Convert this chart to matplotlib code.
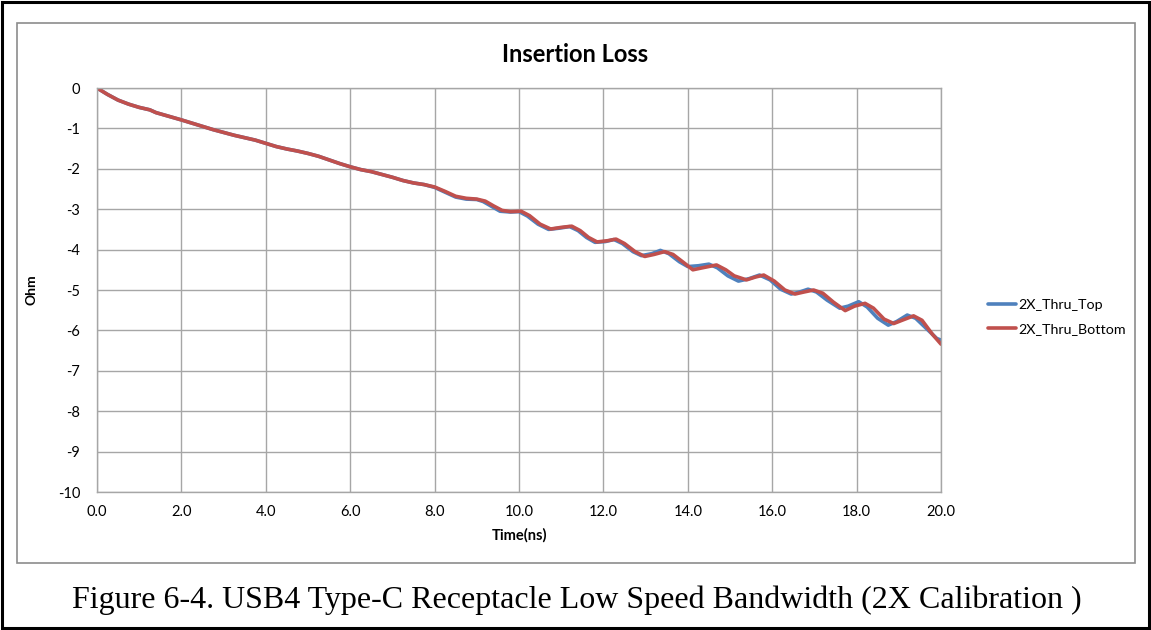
import matplotlib.pyplot as plt
from matplotlib.patches import Rectangle

# data (time in ns, value in "Ohm")
top_t = [0.0, 0.25, 0.5, 0.75, 1.0, 1.25, 1.4, 1.6, 2.0, 2.25, 2.5, 2.75, 3.0, 3.25, 3.5, 3.75,
         4.0, 4.25, 4.5, 4.75, 5.0, 5.25, 5.5, 5.75, 6.0, 6.25, 6.5, 6.75, 7.0, 7.25, 7.5, 7.75,
         8.0, 8.25, 8.5, 8.75, 9.0, 9.15, 9.35, 9.55, 9.8, 10.0, 10.2, 10.45, 10.7, 10.95, 11.2,
         11.4, 11.6, 11.8, 12.05, 12.25, 12.45, 12.7, 12.9, 13.15, 13.35, 13.55, 13.8, 14.0,
         14.25, 14.5, 14.7, 14.95, 15.2, 15.45, 15.7, 15.95, 16.2, 16.45, 16.65, 16.85, 17.05,
         17.3, 17.6, 17.8, 18.05, 18.25, 18.5, 18.75, 18.95, 19.2, 19.4, 19.7, 19.9, 20.0]
top_v = [0.0, -0.16, -0.30, -0.40, -0.48, -0.54, -0.61, -0.67, -0.79, -0.87, -0.95, -1.03,
         -1.10, -1.17, -1.23, -1.29, -1.37, -1.45, -1.51, -1.56, -1.62, -1.69, -1.78, -1.87,
         -1.95, -2.02, -2.07, -2.14, -2.21, -2.29, -2.35, -2.39, -2.46, -2.58, -2.70, -2.75,
         -2.76, -2.81, -2.93, -3.05, -3.07, -3.06, -3.17, -3.37, -3.50, -3.47, -3.43, -3.53,
         -3.70, -3.82, -3.80, -3.75, -3.85, -4.05, -4.15, -4.10, -4.02, -4.10, -4.30, -4.42,
         -4.40, -4.36, -4.45, -4.65, -4.78, -4.72, -4.63, -4.75, -4.98, -5.10, -5.05, -4.98,
         -5.05, -5.25, -5.45, -5.40, -5.29, -5.42, -5.70, -5.87, -5.78, -5.62, -5.70, -6.00,
         -6.20, -6.24]

bot_t = [0.0, 0.25, 0.5, 0.75, 1.0, 1.25, 1.4, 1.6, 2.0, 2.25, 2.5, 2.75, 3.0, 3.25, 3.5, 3.75,
         4.0, 4.25, 4.5, 4.75, 5.0, 5.25, 5.5, 5.75, 6.0, 6.25, 6.5, 6.75, 7.0, 7.25, 7.5, 7.75,
         8.0, 8.25, 8.5, 8.75, 9.0, 9.2, 9.4, 9.6, 9.8, 10.05, 10.25, 10.5, 10.75, 11.0, 11.25,
         11.45, 11.65, 11.85, 12.1, 12.3, 12.5, 12.75, 12.98, 13.2, 13.45, 13.65, 13.9, 14.12,
         14.35, 14.68, 14.9, 15.1, 15.39, 15.6, 15.8, 16.05, 16.3, 16.54, 16.75, 16.98, 17.2,
         17.45, 17.73, 17.95, 18.2, 18.4, 18.65, 18.88, 19.1, 19.35, 19.55, 19.8, 20.0]
bot_v = [0.0, -0.16, -0.30, -0.40, -0.48, -0.54, -0.61, -0.67, -0.79, -0.87, -0.95, -1.03,
         -1.10, -1.17, -1.23, -1.29, -1.37, -1.45, -1.51, -1.56, -1.62, -1.69, -1.78, -1.87,
         -1.95, -2.02, -2.07, -2.14, -2.21, -2.29, -2.35, -2.39, -2.45, -2.56, -2.68, -2.73,
         -2.75, -2.80, -2.92, -3.03, -3.06, -3.05, -3.16, -3.37, -3.49, -3.45, -3.42, -3.53,
         -3.70, -3.81, -3.78, -3.74, -3.85, -4.05, -4.17, -4.12, -4.05, -4.12, -4.32, -4.50,
         -4.45, -4.38, -4.50, -4.65, -4.75, -4.68, -4.63, -4.78, -5.00, -5.10, -5.05, -5.00,
         -5.08, -5.30, -5.51, -5.40, -5.33, -5.45, -5.72, -5.83, -5.74, -5.64, -5.75, -6.10,
         -6.34]

series_names = ["2X_Thru_Top", "2X_Thru_Bottom"]
x_ticks = [0, 2, 4, 6, 8, 10, 12, 14, 16, 18, 20]
y_ticks = [0, -1, -2, -3, -4, -5, -6, -7, -8, -9, -10]

W, H = 1151, 630
font = "Lato"

fig = plt.figure(figsize=(W / 100, H / 100), dpi=100)

# outer black box and the gray chart frame
fig.patches.append(Rectangle((2 / W, 2 / H), (W - 4) / W, (H - 4) / H, transform=fig.transFigure,
                             fill=False, edgecolor="black", linewidth=2.2))
fig.patches.append(Rectangle((17 / W, (H - 563) / H), (1135 - 17) / W, (563 - 23) / H,
                             transform=fig.transFigure, fill=False, edgecolor="#8c8c8c", linewidth=1.2))

ax = fig.add_axes([97 / W, (H - 492) / H, (941 - 97) / W, (492 - 88) / H])
ax.plot(top_t, top_v, color="#4F81BD", linewidth=2.6, label=series_names[0], solid_capstyle="round")
ax.plot(bot_t, bot_v, color="#C0504D", linewidth=2.6, label=series_names[1], solid_capstyle="round")

ax.set_xlim(0, 20)
ax.set_ylim(-10, 0)
ax.set_xticks(x_ticks)
ax.set_xticklabels([f"{v:.1f}" for v in x_ticks], fontfamily=font, fontsize=10.5)
ax.set_yticks(y_ticks)
ax.set_yticklabels([str(v) for v in y_ticks], fontfamily=font, fontsize=10.5)
ax.tick_params(length=0, pad=9)
ax.tick_params(axis="y", pad=12)
ax.grid(True, color="#a6a6a6", linewidth=1.0)
ax.set_axisbelow(True)
for s in ax.spines.values():
    s.set_color("#a6a6a6")
    s.set_linewidth(1.0)

fig.text(575 / W, 1 - 54 / H, "Insertion Loss", ha="center", va="center",
         fontfamily=font, fontweight="bold", fontsize=17)
fig.text(32 / W, 1 - 290 / H, "Ohm", ha="center", va="center", rotation=90,
         fontfamily=font, fontweight="bold", fontsize=10)
fig.text(519 / W, 1 - 535 / H, "Time(ns)", ha="center", va="center",
         fontfamily=font, fontweight="bold", fontsize=10.5)

fig.legend(loc="center left", bbox_to_anchor=(975 / W, 1 - 317 / H), frameon=False,
           prop={"family": font, "size": 10.3}, handlelength=2.0, handletextpad=0.1,
           labelspacing=0.85)

fig.text(577 / W, 1 - 600 / H,
         "Figure 6-4. USB4 Type-C Receptacle Low Speed Bandwidth (2X Calibration )",
         ha="center", va="center", fontfamily="Liberation Serif", fontsize=23)

fig.savefig("out.png", dpi=100)
